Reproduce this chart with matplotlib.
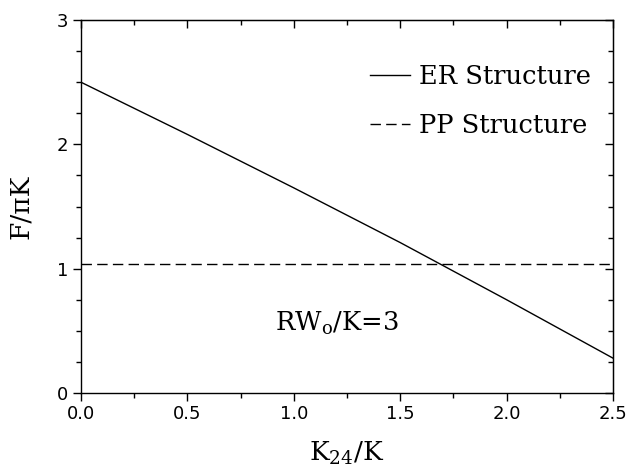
import numpy as np
import matplotlib
matplotlib.use("Agg")
import matplotlib.pyplot as plt
from matplotlib.ticker import MultipleLocator

# free energy curves
k24 = [0.0, 0.5, 1.0, 1.5, 2.0, 2.5]
f_er = [2.50, 2.08, 1.65, 1.21, 0.75, 0.28]
f_pp = 1.04

serif = "DejaVu Serif"
plt.rcParams["font.family"] = "DejaVu Sans"
plt.rcParams["mathtext.fontset"] = "dejavuserif"

fig = plt.figure(figsize=(6.32, 4.72), dpi=100)
ax = fig.add_axes([0.128, 0.1674, 0.842, 0.7902])

ax.plot(k24, f_er, "k-", lw=1.0, label="ER Structure")
ax.axhline(f_pp, color="k", lw=1.0, dashes=(7.5, 3.8), label="PP Structure")

ax.set_xlim(0, 2.5)
ax.set_ylim(0, 3)
ax.xaxis.set_major_locator(MultipleLocator(0.5))
ax.xaxis.set_minor_locator(MultipleLocator(0.25))
ax.yaxis.set_major_locator(MultipleLocator(1))
ax.yaxis.set_minor_locator(MultipleLocator(0.25))
ax.xaxis.set_major_formatter(matplotlib.ticker.FormatStrFormatter("%.1f"))

for s in ax.spines.values():
    s.set_linewidth(1.0)

ax.tick_params(which="both", direction="out", top=False, right=False,
               labelsize=13, width=1.0, pad=3)
ax.tick_params(which="major", length=6)
ax.tick_params(which="minor", length=3.5)

# inward ticks along top and right edges
sec_x = ax.secondary_xaxis("top")
sec_x.xaxis.set_major_locator(MultipleLocator(0.5))
sec_x.xaxis.set_minor_locator(MultipleLocator(0.25))
sec_x.tick_params(which="both", direction="in", labeltop=False, width=1.0)
sec_x.tick_params(which="major", length=6)
sec_x.tick_params(which="minor", length=3.5)
sec_y = ax.secondary_yaxis("right")
sec_y.yaxis.set_major_locator(MultipleLocator(1))
sec_y.yaxis.set_minor_locator(MultipleLocator(0.25))
sec_y.tick_params(which="both", direction="in", labelright=False, width=1.0)
sec_y.tick_params(which="major", length=6)
sec_y.tick_params(which="minor", length=3.5)

ax.set_xlabel(r"K$_{\mathregular{24}}$/K", family=serif, fontsize=19, labelpad=12)
ax.set_ylabel("F/πK", family=serif, fontsize=19, labelpad=17)

ax.text(0.91, 0.5, r"RW$_{\mathregular{o}}$/K=3", family=serif, fontsize=18.5)

leg = ax.legend(loc="upper right", bbox_to_anchor=(1.041, 1.0), frameon=False,
                prop={"family": serif, "size": 18.5},
                handlelength=1.55, handletextpad=0.35, labelspacing=0.95,
                borderaxespad=1.3, borderpad=0.4)

fig.savefig("out.png", dpi=100)
